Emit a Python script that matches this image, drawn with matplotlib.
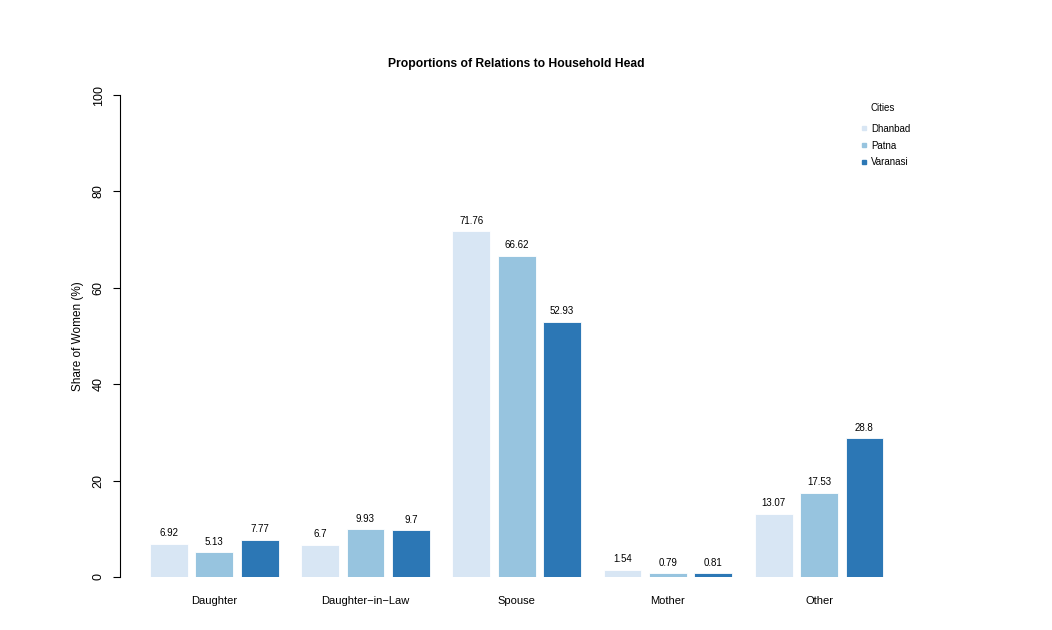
import matplotlib.pyplot as plt
from matplotlib.lines import Line2D
import numpy as np

plt.rcParams["font.family"] = ["Liberation Sans", "DejaVu Sans"]

# ---Data----
categories = ["Daughter", "Daughter\u2212in\u2212Law", "Spouse", "Mother", "Other"]
cities = ["Dhanbad", "Patna", "Varanasi"]
dhanbad = [6.92, 6.7, 71.76, 1.54, 13.07]
patna = [5.13, 9.93, 66.62, 0.79, 17.53]
varanasi = [7.77, 9.7, 52.93, 0.81, 28.8]
colors = ["#D8E6F4", "#97C4DF", "#2C77B5"]
# ---Data----

W, H = 1052, 630
BAR_GAP = 0.2    # space between bars in a group (bar widths)
GROUP_STEP = 4.0  # distance between group starts


def main() -> None:
    fig = plt.figure(figsize=(W / 100, H / 100), dpi=100)
    # axes box in pixels: left 120, right 960, top 95 (y=100), bottom 577 (y=0)
    ax = fig.add_axes([120 / W, (H - 577) / H, (960 - 120) / W, (577 - 95) / H])

    px_per_unit = 37.8
    x0 = -30 / px_per_unit
    x1 = x0 + (960 - 120) / px_per_unit

    series = [dhanbad, patna, varanasi]
    groups = np.arange(len(categories)) * GROUP_STEP
    for j, (vals, col) in enumerate(zip(series, colors)):
        lefts = groups + j * (1 + BAR_GAP)
        ax.bar(lefts, vals, width=1, align="edge", color=col, edgecolor="white", linewidth=0.6)
        for xl, v in zip(lefts, vals):
            ax.annotate(f"{v:g}", (xl + 0.5, v), xytext=(0, 4), textcoords="offset points",
                        ha="center", va="bottom", fontsize=7)

    centers = groups + 1.5 + BAR_GAP
    ax.set_xticks(centers)
    ax.set_xticklabels(categories, fontsize=8)
    ax.tick_params(axis="x", length=0, pad=13.5)

    ax.set_xlim(x0, x1)
    ax.set_ylim(0, 100)
    ax.set_yticks([0, 20, 40, 60, 80, 100])
    ax.set_yticklabels(["0", "20", "40", "60", "80", "100"], rotation=90, va="center", fontsize=9)
    ax.tick_params(axis="y", length=5, pad=6, width=0.8)
    ax.set_ylabel("Share of Women (%)", fontsize=8.5, labelpad=6)

    for s in ["top", "right", "bottom"]:
        ax.spines[s].set_visible(False)
    ax.spines["left"].set_linewidth(0.8)

    fig.text(516 / W, 1 - 64 / H, "Proportions of Relations to Household Head",
             ha="center", va="center", fontsize=8.7, fontweight="bold")

    handles = [Line2D([], [], linestyle="none", marker="s", markersize=3,
                      markerfacecolor=c, markeredgecolor=c) for c in colors]
    leg = ax.legend(handles, cities, title="Cities", loc="upper left",
                    bbox_to_anchor=(850 / W, 1 - 94 / H), bbox_transform=fig.transFigure,
                    frameon=False, fontsize=7, title_fontsize=7, handletextpad=0.3,
                    handlelength=1.0, labelspacing=0.7)
    leg._legend_box.sep = 8
    leg.get_title().set_position((12, 0))
    leg._legend_box.align = "left"

    fig.savefig("out.png", dpi=100)


if __name__ == "__main__":
    main()
